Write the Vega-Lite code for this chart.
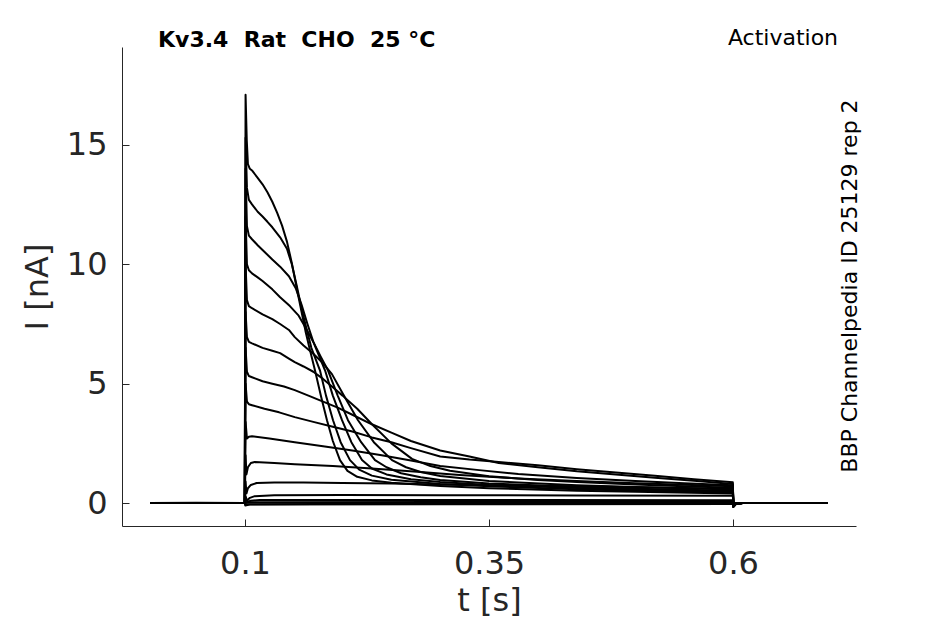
{
  "$schema": "https://vega.github.io/schema/vega-lite/v6.json",
  "width": 734,
  "height": 479,
  "autosize": {"type": "none"},
  "padding": {"left": 122, "top": 47, "right": 89, "bottom": 98},
  "background": "white",
  "data": {
    "values": [
      {"trace": "A", "t": 0.003, "i": 0.0}, {"trace": "A", "t": 0.0998, "i": 0.0}, {"trace": "A", "t": 0.1006, "i": 17.1}, {"trace": "A", "t": 0.1018, "i": 15.2}, {"trace": "A", "t": 0.103, "i": 14.2}, {"trace": "A", "t": 0.105, "i": 14.0}, {"trace": "A", "t": 0.1072, "i": 13.93}, {"trace": "A", "t": 0.113, "i": 13.62}, {"trace": "A", "t": 0.118, "i": 13.35}, {"trace": "A", "t": 0.123, "i": 13.02}, {"trace": "A", "t": 0.128, "i": 12.62}, {"trace": "A", "t": 0.133, "i": 12.15}, {"trace": "A", "t": 0.138, "i": 11.62}, {"trace": "A", "t": 0.143, "i": 10.95}, {"trace": "A", "t": 0.148, "i": 10.05}, {"trace": "A", "t": 0.153, "i": 9.0}, {"trace": "A", "t": 0.158, "i": 8.0}, {"trace": "A", "t": 0.162, "i": 7.2}, {"trace": "A", "t": 0.166, "i": 6.5}, {"trace": "A", "t": 0.1717, "i": 5.56}, {"trace": "A", "t": 0.178, "i": 4.45}, {"trace": "A", "t": 0.184, "i": 3.47}, {"trace": "A", "t": 0.19, "i": 2.6}, {"trace": "A", "t": 0.1973, "i": 1.8}, {"trace": "A", "t": 0.205, "i": 1.35}, {"trace": "A", "t": 0.215, "i": 1.1}, {"trace": "A", "t": 0.23, "i": 0.95}, {"trace": "A", "t": 0.25, "i": 0.85}, {"trace": "A", "t": 0.3, "i": 0.72}, {"trace": "A", "t": 0.35, "i": 0.62}, {"trace": "A", "t": 0.44, "i": 0.52}, {"trace": "A", "t": 0.5, "i": 0.47}, {"trace": "A", "t": 0.5998, "i": 0.4}, {"trace": "A", "t": 0.6004, "i": -0.15}, {"trace": "A", "t": 0.603, "i": -0.03}, {"trace": "A", "t": 0.61, "i": 0.0}, {"trace": "A", "t": 0.697, "i": 0.0},

      {"trace": "B", "t": 0.003, "i": 0.0}, {"trace": "B", "t": 0.0998, "i": 0.0}, {"trace": "B", "t": 0.1006, "i": 15.3}, {"trace": "B", "t": 0.102, "i": 13.2}, {"trace": "B", "t": 0.104, "i": 12.7}, {"trace": "B", "t": 0.1072, "i": 12.51}, {"trace": "B", "t": 0.113, "i": 12.2}, {"trace": "B", "t": 0.118, "i": 12.0}, {"trace": "B", "t": 0.123, "i": 11.78}, {"trace": "B", "t": 0.128, "i": 11.55}, {"trace": "B", "t": 0.136, "i": 11.13}, {"trace": "B", "t": 0.143, "i": 10.65}, {"trace": "B", "t": 0.148, "i": 10.0}, {"trace": "B", "t": 0.153, "i": 9.1}, {"trace": "B", "t": 0.158, "i": 8.15}, {"trace": "B", "t": 0.163, "i": 7.3}, {"trace": "B", "t": 0.168, "i": 6.5}, {"trace": "B", "t": 0.1768, "i": 5.56}, {"trace": "B", "t": 0.183, "i": 4.5}, {"trace": "B", "t": 0.1902, "i": 3.47}, {"trace": "B", "t": 0.198, "i": 2.55}, {"trace": "B", "t": 0.2076, "i": 1.8}, {"trace": "B", "t": 0.217, "i": 1.4}, {"trace": "B", "t": 0.23, "i": 1.15}, {"trace": "B", "t": 0.25, "i": 0.98}, {"trace": "B", "t": 0.3, "i": 0.8}, {"trace": "B", "t": 0.35, "i": 0.7}, {"trace": "B", "t": 0.44, "i": 0.58}, {"trace": "B", "t": 0.5, "i": 0.52}, {"trace": "B", "t": 0.5998, "i": 0.44}, {"trace": "B", "t": 0.6004, "i": -0.15}, {"trace": "B", "t": 0.603, "i": -0.03}, {"trace": "B", "t": 0.61, "i": 0.0}, {"trace": "B", "t": 0.697, "i": 0.0},

      {"trace": "C", "t": 0.003, "i": 0.0}, {"trace": "C", "t": 0.0998, "i": 0.0}, {"trace": "C", "t": 0.1006, "i": 14.0}, {"trace": "C", "t": 0.102, "i": 11.6}, {"trace": "C", "t": 0.104, "i": 11.2}, {"trace": "C", "t": 0.1072, "i": 11.05}, {"trace": "C", "t": 0.113, "i": 10.8}, {"trace": "C", "t": 0.118, "i": 10.6}, {"trace": "C", "t": 0.128, "i": 10.2}, {"trace": "C", "t": 0.136, "i": 9.9}, {"trace": "C", "t": 0.145, "i": 9.5}, {"trace": "C", "t": 0.152, "i": 9.0}, {"trace": "C", "t": 0.158, "i": 8.3}, {"trace": "C", "t": 0.164, "i": 7.5}, {"trace": "C", "t": 0.17, "i": 6.75}, {"trace": "C", "t": 0.176, "i": 6.15}, {"trace": "C", "t": 0.182, "i": 5.56}, {"trace": "C", "t": 0.19, "i": 4.5}, {"trace": "C", "t": 0.1994, "i": 3.47}, {"trace": "C", "t": 0.209, "i": 2.55}, {"trace": "C", "t": 0.2199, "i": 1.8}, {"trace": "C", "t": 0.23, "i": 1.45}, {"trace": "C", "t": 0.245, "i": 1.2}, {"trace": "C", "t": 0.27, "i": 1.0}, {"trace": "C", "t": 0.3, "i": 0.88}, {"trace": "C", "t": 0.35, "i": 0.76}, {"trace": "C", "t": 0.44, "i": 0.63}, {"trace": "C", "t": 0.5, "i": 0.56}, {"trace": "C", "t": 0.5998, "i": 0.48}, {"trace": "C", "t": 0.6004, "i": -0.15}, {"trace": "C", "t": 0.603, "i": -0.03}, {"trace": "C", "t": 0.61, "i": 0.0}, {"trace": "C", "t": 0.697, "i": 0.0},

      {"trace": "D", "t": 0.003, "i": 0.0}, {"trace": "D", "t": 0.0998, "i": 0.0}, {"trace": "D", "t": 0.1006, "i": 12.0}, {"trace": "D", "t": 0.102, "i": 10.0}, {"trace": "D", "t": 0.104, "i": 9.75}, {"trace": "D", "t": 0.1072, "i": 9.62}, {"trace": "D", "t": 0.113, "i": 9.45}, {"trace": "D", "t": 0.118, "i": 9.3}, {"trace": "D", "t": 0.128, "i": 8.95}, {"trace": "D", "t": 0.136, "i": 8.62}, {"trace": "D", "t": 0.146, "i": 8.25}, {"trace": "D", "t": 0.155, "i": 7.85}, {"trace": "D", "t": 0.162, "i": 7.35}, {"trace": "D", "t": 0.17, "i": 6.75}, {"trace": "D", "t": 0.178, "i": 6.1}, {"trace": "D", "t": 0.185, "i": 5.56}, {"trace": "D", "t": 0.195, "i": 4.5}, {"trace": "D", "t": 0.2055, "i": 3.47}, {"trace": "D", "t": 0.219, "i": 2.55}, {"trace": "D", "t": 0.2332, "i": 1.8}, {"trace": "D", "t": 0.245, "i": 1.5}, {"trace": "D", "t": 0.26, "i": 1.25}, {"trace": "D", "t": 0.28, "i": 1.08}, {"trace": "D", "t": 0.3, "i": 0.97}, {"trace": "D", "t": 0.35, "i": 0.82}, {"trace": "D", "t": 0.44, "i": 0.68}, {"trace": "D", "t": 0.5, "i": 0.6}, {"trace": "D", "t": 0.5998, "i": 0.52}, {"trace": "D", "t": 0.6004, "i": -0.15}, {"trace": "D", "t": 0.603, "i": -0.03}, {"trace": "D", "t": 0.61, "i": 0.0}, {"trace": "D", "t": 0.697, "i": 0.0},

      {"trace": "E", "t": 0.003, "i": 0.0}, {"trace": "E", "t": 0.0998, "i": 0.0}, {"trace": "E", "t": 0.1006, "i": 10.0}, {"trace": "E", "t": 0.102, "i": 8.5}, {"trace": "E", "t": 0.104, "i": 8.25}, {"trace": "E", "t": 0.1072, "i": 8.16}, {"trace": "E", "t": 0.118, "i": 7.9}, {"trace": "E", "t": 0.128, "i": 7.7}, {"trace": "E", "t": 0.136, "i": 7.5}, {"trace": "E", "t": 0.145, "i": 7.25}, {"trace": "E", "t": 0.151, "i": 6.95}, {"trace": "E", "t": 0.16, "i": 6.6}, {"trace": "E", "t": 0.17, "i": 6.25}, {"trace": "E", "t": 0.18, "i": 5.85}, {"trace": "E", "t": 0.1891, "i": 5.4}, {"trace": "E", "t": 0.2, "i": 4.6}, {"trace": "E", "t": 0.2158, "i": 3.47}, {"trace": "E", "t": 0.232, "i": 2.55}, {"trace": "E", "t": 0.2506, "i": 1.8}, {"trace": "E", "t": 0.265, "i": 1.5}, {"trace": "E", "t": 0.28, "i": 1.3}, {"trace": "E", "t": 0.3, "i": 1.13}, {"trace": "E", "t": 0.35, "i": 0.92}, {"trace": "E", "t": 0.44, "i": 0.75}, {"trace": "E", "t": 0.5, "i": 0.67}, {"trace": "E", "t": 0.5998, "i": 0.57}, {"trace": "E", "t": 0.6004, "i": -0.15}, {"trace": "E", "t": 0.603, "i": -0.03}, {"trace": "E", "t": 0.61, "i": 0.0}, {"trace": "E", "t": 0.697, "i": 0.0},

      {"trace": "F", "t": 0.003, "i": 0.0}, {"trace": "F", "t": 0.0998, "i": 0.0}, {"trace": "F", "t": 0.1006, "i": 8.0}, {"trace": "F", "t": 0.102, "i": 6.95}, {"trace": "F", "t": 0.104, "i": 6.75}, {"trace": "F", "t": 0.1072, "i": 6.69}, {"trace": "F", "t": 0.118, "i": 6.5}, {"trace": "F", "t": 0.128, "i": 6.38}, {"trace": "F", "t": 0.136, "i": 6.28}, {"trace": "F", "t": 0.145, "i": 6.05}, {"trace": "F", "t": 0.151, "i": 5.9}, {"trace": "F", "t": 0.16, "i": 5.72}, {"trace": "F", "t": 0.17, "i": 5.5}, {"trace": "F", "t": 0.18, "i": 5.2}, {"trace": "F", "t": 0.19, "i": 4.85}, {"trace": "F", "t": 0.2, "i": 4.5}, {"trace": "F", "t": 0.215, "i": 3.95}, {"trace": "F", "t": 0.2301, "i": 3.3}, {"trace": "F", "t": 0.25, "i": 2.5}, {"trace": "F", "t": 0.2711, "i": 1.85}, {"trace": "F", "t": 0.29, "i": 1.55}, {"trace": "F", "t": 0.31, "i": 1.35}, {"trace": "F", "t": 0.35, "i": 1.12}, {"trace": "F", "t": 0.4, "i": 0.97}, {"trace": "F", "t": 0.44, "i": 0.88}, {"trace": "F", "t": 0.5, "i": 0.78}, {"trace": "F", "t": 0.55, "i": 0.7}, {"trace": "F", "t": 0.5998, "i": 0.64}, {"trace": "F", "t": 0.6004, "i": -0.15}, {"trace": "F", "t": 0.603, "i": -0.03}, {"trace": "F", "t": 0.61, "i": 0.0}, {"trace": "F", "t": 0.697, "i": 0.0},

      {"trace": "G", "t": 0.003, "i": 0.0}, {"trace": "G", "t": 0.0998, "i": 0.0}, {"trace": "G", "t": 0.1006, "i": 6.5}, {"trace": "G", "t": 0.102, "i": 5.5}, {"trace": "G", "t": 0.104, "i": 5.32}, {"trace": "G", "t": 0.1072, "i": 5.27}, {"trace": "G", "t": 0.118, "i": 5.1}, {"trace": "G", "t": 0.128, "i": 5.0}, {"trace": "G", "t": 0.14, "i": 4.88}, {"trace": "G", "t": 0.151, "i": 4.73}, {"trace": "G", "t": 0.165, "i": 4.5}, {"trace": "G", "t": 0.18, "i": 4.25}, {"trace": "G", "t": 0.195, "i": 4.0}, {"trace": "G", "t": 0.21, "i": 3.7}, {"trace": "G", "t": 0.23, "i": 3.3}, {"trace": "G", "t": 0.25, "i": 2.95}, {"trace": "G", "t": 0.27, "i": 2.6}, {"trace": "G", "t": 0.3, "i": 2.2}, {"trace": "G", "t": 0.33, "i": 1.95}, {"trace": "G", "t": 0.36, "i": 1.68}, {"trace": "G", "t": 0.4, "i": 1.5}, {"trace": "G", "t": 0.44, "i": 1.33}, {"trace": "G", "t": 0.48, "i": 1.2}, {"trace": "G", "t": 0.52, "i": 1.06}, {"trace": "G", "t": 0.56, "i": 0.93}, {"trace": "G", "t": 0.5998, "i": 0.8}, {"trace": "G", "t": 0.6004, "i": -0.15}, {"trace": "G", "t": 0.603, "i": -0.03}, {"trace": "G", "t": 0.61, "i": 0.0}, {"trace": "G", "t": 0.697, "i": 0.0},

      {"trace": "H", "t": 0.003, "i": 0.0}, {"trace": "H", "t": 0.0998, "i": 0.0}, {"trace": "H", "t": 0.1006, "i": 5.0}, {"trace": "H", "t": 0.102, "i": 4.25}, {"trace": "H", "t": 0.104, "i": 4.14}, {"trace": "H", "t": 0.1072, "i": 4.1}, {"trace": "H", "t": 0.12, "i": 3.95}, {"trace": "H", "t": 0.135, "i": 3.8}, {"trace": "H", "t": 0.151, "i": 3.6}, {"trace": "H", "t": 0.17, "i": 3.4}, {"trace": "H", "t": 0.19, "i": 3.2}, {"trace": "H", "t": 0.21, "i": 3.0}, {"trace": "H", "t": 0.23, "i": 2.75}, {"trace": "H", "t": 0.25, "i": 2.55}, {"trace": "H", "t": 0.27, "i": 2.3}, {"trace": "H", "t": 0.3, "i": 1.95}, {"trace": "H", "t": 0.33, "i": 1.82}, {"trace": "H", "t": 0.36, "i": 1.72}, {"trace": "H", "t": 0.4, "i": 1.58}, {"trace": "H", "t": 0.44, "i": 1.42}, {"trace": "H", "t": 0.48, "i": 1.28}, {"trace": "H", "t": 0.52, "i": 1.14}, {"trace": "H", "t": 0.56, "i": 1.0}, {"trace": "H", "t": 0.5998, "i": 0.87}, {"trace": "H", "t": 0.6004, "i": -0.15}, {"trace": "H", "t": 0.603, "i": -0.03}, {"trace": "H", "t": 0.61, "i": 0.0}, {"trace": "H", "t": 0.697, "i": 0.0},

      {"trace": "I", "t": 0.003, "i": 0.0}, {"trace": "I", "t": 0.0998, "i": 0.0}, {"trace": "I", "t": 0.1006, "i": 3.4}, {"trace": "I", "t": 0.102, "i": 2.7}, {"trace": "I", "t": 0.104, "i": 2.78}, {"trace": "I", "t": 0.1072, "i": 2.8}, {"trace": "I", "t": 0.125, "i": 2.7}, {"trace": "I", "t": 0.151, "i": 2.55}, {"trace": "I", "t": 0.18, "i": 2.38}, {"trace": "I", "t": 0.21, "i": 2.2}, {"trace": "I", "t": 0.24, "i": 2.0}, {"trace": "I", "t": 0.27, "i": 1.78}, {"trace": "I", "t": 0.3, "i": 1.55}, {"trace": "I", "t": 0.34, "i": 1.38}, {"trace": "I", "t": 0.38, "i": 1.22}, {"trace": "I", "t": 0.44, "i": 1.05}, {"trace": "I", "t": 0.5, "i": 0.92}, {"trace": "I", "t": 0.55, "i": 0.83}, {"trace": "I", "t": 0.5998, "i": 0.75}, {"trace": "I", "t": 0.6004, "i": -0.08}, {"trace": "I", "t": 0.603, "i": -0.01}, {"trace": "I", "t": 0.61, "i": 0.0}, {"trace": "I", "t": 0.697, "i": 0.0},

      {"trace": "J", "t": 0.003, "i": 0.0}, {"trace": "J", "t": 0.0998, "i": 0.0}, {"trace": "J", "t": 0.1006, "i": 2.0}, {"trace": "J", "t": 0.1015, "i": 1.2}, {"trace": "J", "t": 0.103, "i": 1.5}, {"trace": "J", "t": 0.106, "i": 1.68}, {"trace": "J", "t": 0.11, "i": 1.72}, {"trace": "J", "t": 0.13, "i": 1.68}, {"trace": "J", "t": 0.151, "i": 1.63}, {"trace": "J", "t": 0.19, "i": 1.55}, {"trace": "J", "t": 0.23, "i": 1.45}, {"trace": "J", "t": 0.28, "i": 1.3}, {"trace": "J", "t": 0.32, "i": 1.18}, {"trace": "J", "t": 0.38, "i": 1.03}, {"trace": "J", "t": 0.44, "i": 0.92}, {"trace": "J", "t": 0.5, "i": 0.83}, {"trace": "J", "t": 0.5998, "i": 0.7}, {"trace": "J", "t": 0.6004, "i": -0.08}, {"trace": "J", "t": 0.603, "i": -0.01}, {"trace": "J", "t": 0.61, "i": 0.0}, {"trace": "J", "t": 0.697, "i": 0.0},

      {"trace": "K", "t": 0.003, "i": 0.0}, {"trace": "K", "t": 0.0998, "i": 0.0}, {"trace": "K", "t": 0.1006, "i": 0.9}, {"trace": "K", "t": 0.1015, "i": 0.4}, {"trace": "K", "t": 0.103, "i": 0.62}, {"trace": "K", "t": 0.106, "i": 0.76}, {"trace": "K", "t": 0.112, "i": 0.84}, {"trace": "K", "t": 0.13, "i": 0.86}, {"trace": "K", "t": 0.16, "i": 0.86}, {"trace": "K", "t": 0.2, "i": 0.84}, {"trace": "K", "t": 0.25, "i": 0.82}, {"trace": "K", "t": 0.3, "i": 0.78}, {"trace": "K", "t": 0.38, "i": 0.73}, {"trace": "K", "t": 0.44, "i": 0.7}, {"trace": "K", "t": 0.5, "i": 0.66}, {"trace": "K", "t": 0.5998, "i": 0.6}, {"trace": "K", "t": 0.6004, "i": -0.08}, {"trace": "K", "t": 0.603, "i": -0.01}, {"trace": "K", "t": 0.61, "i": 0.0}, {"trace": "K", "t": 0.697, "i": 0.0},

      {"trace": "L", "t": 0.003, "i": 0.0}, {"trace": "L", "t": 0.0998, "i": 0.0}, {"trace": "L", "t": 0.1006, "i": 0.3}, {"trace": "L", "t": 0.102, "i": 0.1}, {"trace": "L", "t": 0.105, "i": 0.22}, {"trace": "L", "t": 0.11, "i": 0.29}, {"trace": "L", "t": 0.13, "i": 0.33}, {"trace": "L", "t": 0.2, "i": 0.34}, {"trace": "L", "t": 0.3, "i": 0.33}, {"trace": "L", "t": 0.44, "i": 0.32}, {"trace": "L", "t": 0.5998, "i": 0.31}, {"trace": "L", "t": 0.6004, "i": -0.06}, {"trace": "L", "t": 0.603, "i": -0.01}, {"trace": "L", "t": 0.61, "i": 0.0}, {"trace": "L", "t": 0.697, "i": 0.0},

      {"trace": "M", "t": 0.003, "i": 0.0}, {"trace": "M", "t": 0.0998, "i": 0.0}, {"trace": "M", "t": 0.102, "i": 0.05}, {"trace": "M", "t": 0.106, "i": 0.1}, {"trace": "M", "t": 0.115, "i": 0.13}, {"trace": "M", "t": 0.2, "i": 0.13}, {"trace": "M", "t": 0.4, "i": 0.13}, {"trace": "M", "t": 0.5998, "i": 0.12}, {"trace": "M", "t": 0.6004, "i": -0.04}, {"trace": "M", "t": 0.61, "i": 0.0}, {"trace": "M", "t": 0.697, "i": 0.0},

      {"trace": "N", "t": 0.003, "i": 0.0}, {"trace": "N", "t": 0.0998, "i": 0.0}, {"trace": "N", "t": 0.105, "i": 0.03}, {"trace": "N", "t": 0.3, "i": 0.04}, {"trace": "N", "t": 0.5998, "i": 0.04}, {"trace": "N", "t": 0.6004, "i": -0.03}, {"trace": "N", "t": 0.61, "i": 0.0}, {"trace": "N", "t": 0.697, "i": 0.0},

      {"trace": "O", "t": 0.003, "i": 0.0}, {"trace": "O", "t": 0.05, "i": 0.01}, {"trace": "O", "t": 0.0998, "i": 0.0}, {"trace": "O", "t": 0.1003, "i": -0.05}, {"trace": "O", "t": 0.3, "i": -0.02}, {"trace": "O", "t": 0.5998, "i": -0.01}, {"trace": "O", "t": 0.61, "i": 0.0}, {"trace": "O", "t": 0.697, "i": 0.0},

      {"trace": "P", "t": 0.003, "i": 0.0}, {"trace": "P", "t": 0.0998, "i": 0.0}, {"trace": "P", "t": 0.1003, "i": -0.1}, {"trace": "P", "t": 0.105, "i": -0.06}, {"trace": "P", "t": 0.3, "i": -0.05}, {"trace": "P", "t": 0.5998, "i": -0.04}, {"trace": "P", "t": 0.61, "i": 0.0}, {"trace": "P", "t": 0.697, "i": 0.0}
    ]
  },
  "layer": [
    {
      "mark": {"type": "line", "color": "black", "strokeWidth": 2, "strokeJoin": "round"},
      "encoding": {
        "x": {
          "field": "t",
          "type": "quantitative",
          "title": "t [s]",
          "scale": {"domain": [-0.026, 0.726], "nice": false, "zero": false},
          "axis": {"values": [0.1, 0.35, 0.6], "format": ".2~f", "labelPadding": 29, "titlePadding": 6}
        },
        "y": {
          "field": "i",
          "type": "quantitative",
          "title": "I [nA]",
          "scale": {"domain": [-0.96, 19.1], "nice": false, "zero": false},
          "axis": {"values": [0, 5, 10, 15], "format": "d", "labelPadding": 22, "titlePadding": 12}
        },
        "detail": {"field": "trace", "type": "nominal"},
        "order": {"field": "t", "type": "quantitative"}
      }
    },
    {
      "data": {"values": [{"t": 0.0109, "i": 19.4, "label": "Kv3.4\u00a0 Rat\u00a0 CHO\u00a0 25 °C"}]},
      "mark": {"type": "text", "align": "left", "baseline": "middle", "font": "DejaVu Sans", "fontSize": 22, "fontWeight": "bold", "color": "black"},
      "encoding": {
        "x": {"field": "t", "type": "quantitative"},
        "y": {"field": "i", "type": "quantitative"},
        "text": {"field": "label"}
      }
    },
    {
      "data": {"values": [{"t": 0.7076, "i": 19.48, "label": "Activation"}]},
      "mark": {"type": "text", "align": "right", "baseline": "middle", "font": "DejaVu Sans", "fontSize": 22, "color": "black"},
      "encoding": {
        "x": {"field": "t", "type": "quantitative"},
        "y": {"field": "i", "type": "quantitative"},
        "text": {"field": "label"}
      }
    },
    {
      "data": {"values": [{"t": 0.72, "i": 9.09, "label": "BBP Channelpedia ID 25129 rep 2"}]},
      "mark": {"type": "text", "angle": 270, "align": "center", "baseline": "middle", "font": "DejaVu Sans", "fontSize": 22, "color": "black"},
      "encoding": {
        "x": {"field": "t", "type": "quantitative"},
        "y": {"field": "i", "type": "quantitative"},
        "text": {"field": "label"}
      }
    }
  ],
  "config": {
    "view": {"stroke": null},
    "axis": {
      "grid": false,
      "domainColor": "#262626",
      "tickColor": "#262626",
      "labelColor": "#262626",
      "titleColor": "#262626",
      "labelFont": "DejaVu Sans",
      "titleFont": "DejaVu Sans",
      "labelFontSize": 32,
      "titleFontSize": 32,
      "titleFontWeight": "normal",
      "tickSize": -7,
      "domainWidth": 1,
      "tickWidth": 1
    }
  }
}
